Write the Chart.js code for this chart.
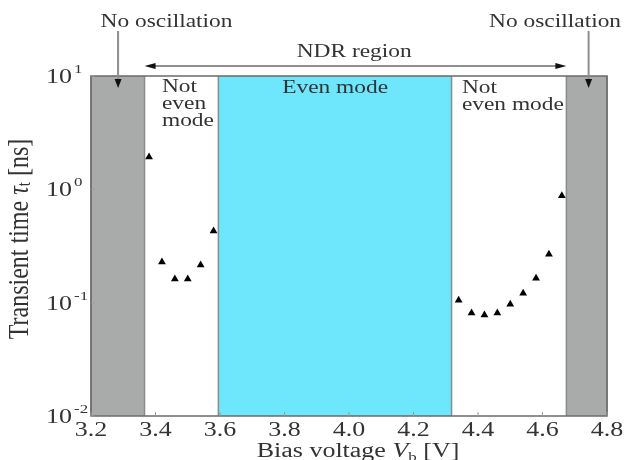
<!DOCTYPE html>
<html>
<head>
<meta charset="utf-8">
<script src="https://cdn.jsdelivr.net/npm/chart.js@4"></script>
<style>
  body { margin: 0; background: #fff; }
  #wrap { width: 627px; height: 460px; }
</style>
</head>
<body>
<div id="wrap"><canvas id="chart" width="627" height="460"></canvas></div>
<script>
/* datos */
const leftVoltage = [3.38, 3.42, 3.46, 3.50, 3.54, 3.58];
const leftTau = [1.93, 0.228, 0.162, 0.162, 0.215, 0.428];
const rightVoltage = [4.34, 4.38, 4.42, 4.46, 4.50, 4.54, 4.58, 4.62, 4.66];
const rightTau = [0.105, 0.081, 0.078, 0.081, 0.097, 0.121, 0.164, 0.267, 0.879];

const xTicks = [3.2, 3.4, 3.6, 3.8, 4.0, 4.2, 4.4, 4.6, 4.8];
const yTicks = [0.01, 0.1, 1, 10];
const yExponents = ["-2", "-1", "0", "1"];

// zonas: sin oscilacion / modo no par / modo par
const noOscLeft = [3.2, 3.366];
const evenMode = [3.595, 4.318];
const noOscRight = [4.674, 4.8];

const grayFill = "#a9abab";
const cyanFill = "#6ee6fb";
const textColor = "#333333";
const serif = "'Liberation Serif', 'DejaVu Serif', serif";
const SX = 1.3; // la figura original esta estirada en horizontal

// texto con varias partes (normal, italica, subindice...)
const drawRuns = (ctx, runs, x, y, align, sx) => {
  let total = 0;
  runs.forEach((r) => {
    ctx.font = r.font;
    r.w = ctx.measureText(r.t).width;
    total += r.w;
  });
  let start = align === "center" ? -total / 2 : align === "right" ? -total : 0;
  ctx.save();
  ctx.translate(x, y);
  ctx.scale(sx, 1);
  ctx.textAlign = "left";
  runs.forEach((r) => {
    ctx.font = r.font;
    ctx.fillText(r.t, start, r.dy || 0);
    start += r.w;
  });
  ctx.restore();
};

const label = (ctx, str, x, y, align, size = 18) =>
  drawRuns(ctx, [{ t: str, font: `${size}px ${serif}` }], x, y, align, SX);

const arrowHead = (ctx, x, y, dir) => {
  // dir: "down", "left", "right"
  ctx.beginPath();
  if (dir === "down") {
    ctx.moveTo(x, y);
    ctx.lineTo(x - 3.5, y - 9);
    ctx.lineTo(x + 3.5, y - 9);
  } else if (dir === "left") {
    ctx.moveTo(x, y);
    ctx.lineTo(x + 11, y - 3);
    ctx.lineTo(x + 11, y + 3);
  } else {
    ctx.moveTo(x, y);
    ctx.lineTo(x - 11, y - 3);
    ctx.lineTo(x - 11, y + 3);
  }
  ctx.closePath();
  ctx.fill();
};

const regionsPlugin = {
  id: "regions",
  beforeDatasetsDraw(chart) {
    const { ctx, chartArea: a, scales: { x } } = chart;
    ctx.save();
    const band = (range, color) => {
      const x0 = x.getPixelForValue(range[0]);
      const x1 = x.getPixelForValue(range[1]);
      ctx.fillStyle = color;
      ctx.fillRect(x0, a.top, x1 - x0, a.bottom - a.top);
      ctx.strokeStyle = "#8a8c8c";
      ctx.lineWidth = 1.5;
      ctx.beginPath();
      ctx.moveTo(x0, a.top);
      ctx.lineTo(x0, a.bottom);
      ctx.moveTo(x1, a.top);
      ctx.lineTo(x1, a.bottom);
      ctx.stroke();
    };
    band(noOscLeft, grayFill);
    band(evenMode, cyanFill);
    band(noOscRight, grayFill);
    ctx.restore();
  },
  afterDraw(chart) {
    const { ctx, chartArea: a, scales: { x, y } } = chart;
    ctx.save();

    // marco y marcas
    ctx.strokeStyle = "#6a6a6a";
    ctx.lineWidth = 1.5;
    ctx.strokeRect(a.left, a.top, a.right - a.left, a.bottom - a.top);
    ctx.strokeStyle = "#9a9a9a";
    ctx.lineWidth = 1;
    xTicks.forEach((v) => {
      const px = x.getPixelForValue(v);
      ctx.beginPath();
      ctx.moveTo(px, a.bottom);
      ctx.lineTo(px, a.bottom - 4);
      ctx.stroke();
    });
    yTicks.forEach((v) => {
      const py = y.getPixelForValue(v);
      ctx.beginPath();
      ctx.moveTo(a.left, py);
      ctx.lineTo(a.left + 4, py);
      ctx.stroke();
    });

    ctx.fillStyle = textColor;
    ctx.textBaseline = "alphabetic";

    // etiquetas de los ejes
    xTicks.forEach((v) => {
      label(ctx, v.toFixed(1), x.getPixelForValue(v), a.bottom + 20, "center", 20);
    });
    yTicks.forEach((v, i) => {
      const py = y.getPixelForValue(v);
      drawRuns(ctx, [{ t: "10", font: `20px ${serif}` }], a.left - 19, py + 7, "right", SX);
      drawRuns(ctx, [{ t: yExponents[i], font: `13px ${serif}` }], a.left - 17, py - 3, "left", SX);
    });

    // titulo eje x
    drawRuns(
      ctx,
      [
        { t: "Bias voltage ", font: `20px ${serif}` },
        { t: "V", font: `italic 20px ${serif}` },
        { t: "b", font: `13px ${serif}`, dy: 4 },
        { t: " [V]", font: `20px ${serif}` },
      ],
      (a.left + a.right) / 2 + 9,
      a.bottom + 41,
      "center",
      SX
    );

    // titulo eje y
    ctx.save();
    ctx.translate(20, (a.top + a.bottom) / 2 - 7);
    ctx.rotate(-Math.PI / 2);
    ctx.textBaseline = "middle";
    ctx.scale(1, 1.25);
    drawRuns(
      ctx,
      [
        { t: "Transient time ", font: `24px ${serif}` },
        { t: "τ", font: `italic 24px ${serif}` },
        { t: "t", font: `15px ${serif}`, dy: 4 },
        { t: " [ns]", font: `24px ${serif}` },
      ],
      0,
      0,
      "center",
      1
    );
    ctx.restore();

    // anotaciones
    const leftArrowX = x.getPixelForValue(3.284);
    const rightArrowX = x.getPixelForValue(4.743);
    ctx.strokeStyle = "#8f8f8f";
    ctx.lineWidth = 2;
    ctx.beginPath();
    ctx.moveTo(leftArrowX, a.top - 45);
    ctx.lineTo(leftArrowX, a.top + 8);
    ctx.moveTo(rightArrowX, a.top - 45);
    ctx.lineTo(rightArrowX, a.top + 8);
    const ndrY = a.top - 10;
    const ndrX0 = x.getPixelForValue(noOscLeft[1]);
    const ndrX1 = x.getPixelForValue(noOscRight[0]);
    ctx.moveTo(ndrX0 + 4, ndrY);
    ctx.lineTo(ndrX1 - 4, ndrY);
    ctx.stroke();
    ctx.fillStyle = "#111";
    arrowHead(ctx, leftArrowX, a.top + 12, "down");
    arrowHead(ctx, rightArrowX, a.top + 12, "down");
    arrowHead(ctx, ndrX0, ndrY, "left");
    arrowHead(ctx, ndrX1, ndrY, "right");

    ctx.fillStyle = textColor;
    label(ctx, "No oscillation", x.getPixelForValue(3.434), a.top - 49, "center");
    label(ctx, "No oscillation", x.getPixelForValue(4.639), a.top - 49, "center");
    label(ctx, "NDR region", x.getPixelForValue(4.016), a.top - 19, "center");
    label(ctx, "Even mode", x.getPixelForValue(3.957), a.top + 17, "center");
    const nl = x.getPixelForValue(3.42);
    label(ctx, "Not", nl, a.top + 16, "left");
    label(ctx, "even", nl, a.top + 33, "left");
    label(ctx, "mode", nl, a.top + 50, "left");
    const nr = x.getPixelForValue(4.35);
    label(ctx, "Not", nr, a.top + 17, "left");
    label(ctx, "even mode", nr, a.top + 34, "left");

    ctx.restore();
  },
};

const toPoints = (xs, ys) => xs.map((v, i) => ({ x: v, y: ys[i] }));

const config = {
  type: "scatter",
  data: {
    datasets: [
      {
        label: "left",
        data: toPoints(leftVoltage, leftTau),
        pointStyle: "triangle",
        pointRadius: 4.5,
        backgroundColor: "#000",
        borderColor: "#000",
        borderWidth: 0,
      },
      {
        label: "right",
        data: toPoints(rightVoltage, rightTau),
        pointStyle: "triangle",
        pointRadius: 4.5,
        backgroundColor: "#000",
        borderColor: "#000",
        borderWidth: 0,
      },
    ],
  },
  options: {
    responsive: false,
    animation: false,
    layout: { padding: { left: 91, right: 20, top: 76, bottom: 44 } },
    plugins: {
      legend: { display: false },
      tooltip: { enabled: false },
    },
    scales: {
      x: { type: "linear", min: 3.2, max: 4.8, display: false },
      y: { type: "logarithmic", min: 0.01, max: 10, display: false },
    },
  },
  plugins: [regionsPlugin],
};

new Chart(document.getElementById("chart").getContext("2d"), config);
</script>
</body>
</html>
